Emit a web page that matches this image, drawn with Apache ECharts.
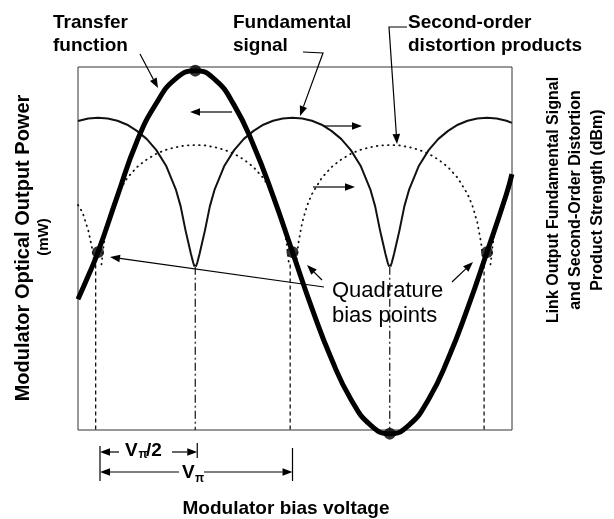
<!DOCTYPE html>
<html>
<head>
<meta charset="utf-8">
<script src="https://cdn.jsdelivr.net/npm/echarts@6/dist/echarts.min.js"></script>
<style>
  html, body { margin: 0; padding: 0; background: #fff; }
  #chart { width: 614px; height: 519px; }
</style>
</head>
<body>
<div id="chart"></div>
<script>
// bias voltage in units of V_pi (0 = first quadrature point), power in arbitrary 0-100 units
var transferX = [-0.103, -0.05, 0, 0.1, 0.2, 0.3, 0.4, 0.5, 0.6, 0.7, 0.8, 0.9, 1.0, 1.1, 1.2, 1.3, 1.4, 1.5, 1.6, 1.7, 1.8, 1.9, 2.0, 2.1, 2.128];
var transferY = [36, 42.5, 49, 64.5, 79.5, 90, 96.8, 99, 96.6, 89.5, 78.4, 64.5, 49, 33.5, 19.6, 8.5, 1.4, -1, 1.4, 8.5, 19.6, 33.5, 49, 65, 70.5];

// fundamental signal (solid), '-' marks the break at each null
var fundX = [-0.103, -0.05, 0, 0.05, 0.1, 0.15, 0.2, 0.25, 0.3, 0.35, 0.4, 0.425, 0.45, 0.465, 0.478, 0.49, 0.497, 0.5,
             0.503, 0.51, 0.522, 0.535, 0.55, 0.575, 0.6, 0.65, 0.7, 0.75, 0.8, 0.85, 0.9, 0.95,
             1.0, 1.05, 1.1, 1.15, 1.2, 1.25, 1.3, 1.35, 1.4, 1.425, 1.45, 1.465, 1.478, 1.49, 1.497, 1.5,
             1.503, 1.51, 1.522, 1.535, 1.55, 1.575, 1.6, 1.65, 1.7, 1.75, 1.8, 1.85, 1.9, 1.95, 2.0, 2.05, 2.1, 2.128];
var fundY = [85.1, 85.8, 86, 85.8, 85.2, 84.1, 82.4, 80.2, 77.1, 72.8, 66.3, 61.6, 55, 51.5, 48.5, 46, 45, '-',
             45, 46, 48.5, 51.5, 55, 61.6, 66.3, 72.8, 77.1, 80.2, 82.4, 84.1, 85.2, 85.8,
             86, 85.8, 85.2, 84.1, 82.4, 80.2, 77.1, 72.8, 66.3, 61.6, 55, 51.5, 48.5, 46, 45, '-',
             45, 46, 48.5, 51.5, 55, 61.6, 66.3, 72.8, 77.1, 80.2, 82.4, 84.1, 85.2, 85.8, 86, 85.8, 85.2, 84.6];

// second-order distortion (dotted)
var soX = [-0.103, -0.08, -0.05, -0.03, -0.018, 0,
           0.018, 0.03, 0.05, 0.075, 0.1, 0.15, 0.2, 0.25, 0.3, 0.35, 0.4, 0.45, 0.5, 0.55, 0.6, 0.65, 0.7, 0.75, 0.8, 0.85, 0.9, 0.925, 0.95, 0.97, 0.982, 1,
           1.018, 1.03, 1.05, 1.075, 1.1, 1.15, 1.2, 1.25, 1.3, 1.35, 1.4, 1.45, 1.5, 1.55, 1.6, 1.65, 1.7, 1.75, 1.8, 1.85, 1.9, 1.925, 1.95, 1.97, 1.982, 2,
           2.018, 2.03, 2.05, 2.075, 2.1, 2.128];
var soY = [62, 60, 55, 50, 45.6, '-',
           45.6, 51.4, 57.2, 61.8, 65, 69.4, 72.4, 74.5, 76.1, 77.2, 77.9, 78.4, 78.5, 78.4, 77.9, 77.2, 76.1, 74.5, 72.4, 69.4, 65, 61.8, 57.2, 51.4, 45.6, '-',
           45.6, 51.4, 57.2, 61.8, 65, 69.4, 72.4, 74.5, 76.1, 77.2, 77.9, 78.4, 78.5, 78.4, 77.9, 77.2, 76.1, 74.5, 72.4, 69.4, 65, 61.8, 57.2, 51.4, 45.6, '-',
           45.6, 51.4, 57.2, 61.8, 65, 67.7];

// null drop lines
var fundNullX = [0.5, 1.5];
var fundNullTop = 45;
var soNullX = [-0.012, 0.988, 1.985];
var soNullTop = 45.6;

// quadrature points, peak and trough
var dotX = [0, 0.5, 1, 1.5, 2];
var dotY = [49, 99, 49, -1, 49];

function pairs(xs, ys) {
  return xs.map(function (x, i) { return [x, ys[i]]; });
}
function drops(xs, top) {
  var d = [];
  xs.forEach(function (x) { d.push([x, top], [x, 0], [x, '-']); });
  return d;
}

var FONT = '"Liberation Sans", Arial, sans-serif';
var chart = echarts.init(document.getElementById('chart'));

chart.setOption({
  animation: false,
  grid: { left: 78, top: 67, width: 434, height: 363, show: true, borderColor: '#333', borderWidth: 1 },
  xAxis: { type: 'value', min: -0.1028, max: 2.1285, show: false },
  yAxis: { type: 'value', min: 0, max: 100, show: false },
  series: [
    {
      type: 'line', data: pairs(soX, soY), showSymbol: false,
      connectNulls: false, lineStyle: { color: '#111', width: 1.8, type: [0.6, 5], cap: 'round' }
    },
    {
      type: 'line', data: drops(soNullX, soNullTop), showSymbol: false, connectNulls: false,
      lineStyle: { color: '#111', width: 1.3, type: [4, 3] }
    },
    {
      type: 'line', data: pairs(fundX, fundY), showSymbol: false,
      connectNulls: false, lineStyle: { color: '#111', width: 2, join: 'round' }
    },
    {
      type: 'line', data: drops(fundNullX, fundNullTop), showSymbol: false, connectNulls: false,
      lineStyle: { color: '#111', width: 1.2, type: [8, 3, 2, 3] }
    },
    {
      type: 'line', data: pairs(transferX, transferY), smooth: 0.5, showSymbol: false, clip: false,
      lineStyle: { color: '#000', width: 5 }
    },
    {
      type: 'scatter', data: pairs(dotX, dotY), symbolSize: 12, clip: false,
      itemStyle: { color: '#000' }
    }
  ]
});

function text(str, x, y, size, bold, align, rot) {
  return {
    type: 'text', x: x, y: y, rotation: rot || 0, z: 10,
    style: {
      text: str, font: (bold ? 'bold ' : '') + size + 'px ' + FONT, fill: '#000',
      align: align || 'left', textAlign: align || 'left',
      verticalAlign: 'middle', textVerticalAlign: 'middle'
    }
  };
}

function arrow(pts) {
  var n = pts.length, tip = pts[n - 1], prev = pts[n - 2];
  var dx = tip[0] - prev[0], dy = tip[1] - prev[1];
  var len = Math.sqrt(dx * dx + dy * dy);
  var ux = dx / len, uy = dy / len, hl = 10, hw = 3.8;
  var bx = tip[0] - ux * hl, by = tip[1] - uy * hl;
  var line = pts.slice(0, n - 1).concat([[bx, by]]);
  return [
    { type: 'polyline', z: 10, shape: { points: line }, style: { stroke: '#000', lineWidth: 1.2, fill: null } },
    { type: 'polygon', z: 10, shape: { points: [tip, [bx - uy * hw, by + ux * hw], [bx + uy * hw, by - ux * hw]] },
      style: { fill: '#000' } }
  ];
}

function seg(a, b) {
  return { type: 'line', z: 10, shape: { x1: a[0], y1: a[1], x2: b[0], y2: b[1] }, style: { stroke: '#000', lineWidth: 1.2 } };
}

var px0 = chart.convertToPixel({ gridIndex: 0 }, [0, 0])[0];
var pxHalf = chart.convertToPixel({ gridIndex: 0 }, [0.5, 0])[0];
var pxOne = chart.convertToPixel({ gridIndex: 0 }, [1, 0])[0];

var els = [
  text('Transfer', 53, 23, 19, true),
  text('function', 53, 45.5, 19, true),
  text('Fundamental', 233, 23, 19, true),
  text('signal', 233, 45.5, 19, true),
  text('Second-order', 408, 22.5, 19, true),
  text('distortion products', 408, 45.5, 19, true),
  text('Quadrature', 332, 290.5, 22, false),
  text('bias points', 332, 315.5, 22, false),
  text('Modulator bias voltage', 286, 508.5, 19, true, 'center'),
  text('Modulator Optical Output Power', 23, 248, 20, true, 'center', Math.PI / 2),
  text('(mW)', 44, 237, 15, true, 'center', Math.PI / 2),
  text('Link Output Fundamental Signal', 554, 200, 16, true, 'center', Math.PI / 2),
  text('and Second-Order Distortion', 576, 200, 16, true, 'center', Math.PI / 2),
  text('Product Strength (dBm)', 598, 200, 16, true, 'center', Math.PI / 2),
  // V_pi/2 and V_pi labels
  text('V', 125, 450.5, 19, true),
  text('\u03c0', 138.5, 454.5, 12, true),
  text('/2', 146, 450.5, 19, true),
  text('V', 182, 473, 19, true),
  text('\u03c0', 195, 478.5, 12, true),
  seg([px0 + 2, 446], [px0 + 2, 481]),
  seg([pxHalf + 2, 443], [pxHalf + 2, 458]),
  seg([pxOne, 448], [pxOne, 481])
];
els = els
  .concat(arrow([[140, 54], [158, 88]]))
  .concat(arrow([[303, 52], [323, 53], [300, 116]]))
  .concat(arrow([[407, 27], [389, 27], [397, 144]]))
  .concat(arrow([[232, 112], [190, 112]]))
  .concat(arrow([[323, 126], [362, 126]]))
  .concat(arrow([[313, 187], [355, 187]]))
  .concat(arrow([[324, 287], [110, 257]]))
  .concat(arrow([[322, 280], [307, 265]]))
  .concat(arrow([[452, 282], [473, 262]]))
  .concat(arrow([[119, 452], [px0 + 2, 452]]))
  .concat(arrow([[172, 452], [pxHalf + 2, 452]]))
  .concat(arrow([[179, 472], [px0 + 2, 472]]))
  .concat(arrow([[204, 472], [pxOne, 472]]));

chart.setOption({ graphic: { elements: els } });
</script>
</body>
</html>
